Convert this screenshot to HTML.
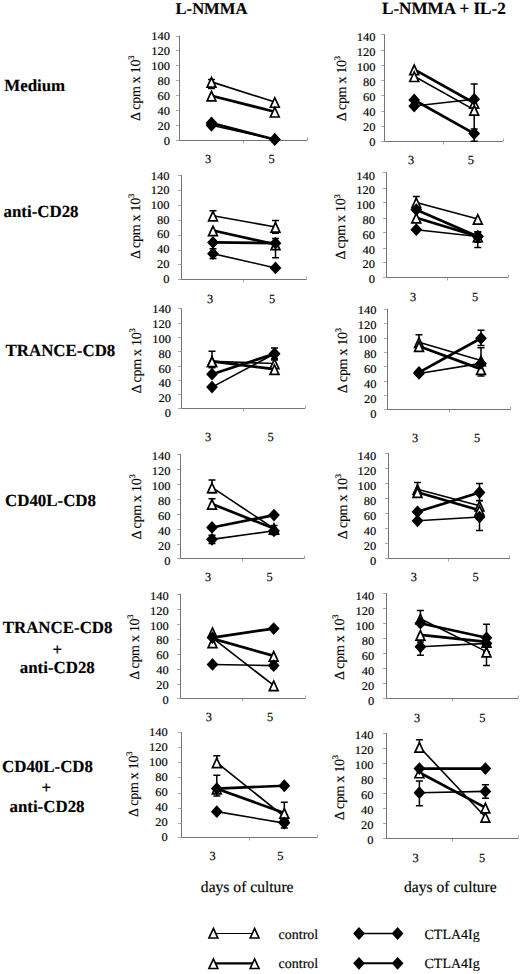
<!DOCTYPE html><html><head><meta charset="utf-8"><title>Figure</title><style>html,body{margin:0;padding:0;background:#fff;}body{width:520px;height:974px;overflow:hidden;}svg{display:block;font-family:"Liberation Serif",serif;text-rendering:geometricPrecision;}text{stroke:#000;stroke-width:0.15px;}</style></head><body>
<svg width="520" height="974" viewBox="0 0 520 974">
<rect width="520" height="974" fill="#fff"/>
<g font-weight="bold" font-size="16.6">
<text x="211.5" y="13.8" text-anchor="middle">L-NMMA</text>
<text x="443.85" y="14.4" text-anchor="middle" font-size="17.1">L-NMMA + IL-2</text>
</g>
<g font-weight="bold" font-size="16.9">
<text x="4.2" y="90.8">Medium</text>
<text x="3.5" y="217.4">anti-CD28</text>
<text x="5.5" y="355.5">TRANCE-CD8</text>
<text x="5" y="506.3">CD40L-CD8</text>
<text x="57.6" y="632.5" text-anchor="middle">TRANCE-CD8</text>
<text x="57.2" y="654.6" text-anchor="middle">+</text>
<text x="57.3" y="673" text-anchor="middle">anti-CD28</text>
<text x="47.5" y="772" text-anchor="middle">CD40L-CD8</text>
<text x="46.4" y="793.2" text-anchor="middle">+</text>
<text x="47" y="812" text-anchor="middle">anti-CD28</text>
</g>
<g fill="none">
<path d="M176,125.5H179.5M176,110.5H179.5M176,95.5H179.5M176,80.5H179.5M176,65.5H179.5M176,50.5H179.5M176,36.5H179.5M243.5,140.5v3M307.5,140.5v-3" stroke="#a8a8a8" stroke-width="1"/>
<path d="M176,140.5H179.5" stroke="#a8a8a8" stroke-width="1"/>
<path d="M179.5,35.5V140.5H307" stroke="#747474" stroke-width="1"/>
</g>
<g font-size="11.8" text-anchor="end">
<text transform="translate(169.9,144.7) scale(1.06,1)">0</text>
<text transform="translate(169.9,129.74) scale(1.06,1)">20</text>
<text transform="translate(169.9,114.79) scale(1.06,1)">40</text>
<text transform="translate(169.9,99.83) scale(1.06,1)">60</text>
<text transform="translate(169.9,84.87) scale(1.06,1)">80</text>
<text transform="translate(169.9,69.91) scale(1.06,1)">100</text>
<text transform="translate(169.9,54.96) scale(1.06,1)">120</text>
<text transform="translate(169.9,40) scale(1.06,1)">140</text>
</g>
<text transform="translate(140.1,120.9) rotate(-90)" font-size="14" letter-spacing="-0.28">&#916; cpm x 10<tspan font-size="8.5" dy="-5.8">3</tspan></text>
<text x="208.2" y="162.7" font-size="12.4" text-anchor="middle">3</text>
<text x="271.6" y="162.7" font-size="12.4" text-anchor="middle">5</text>
<line x1="211.5" y1="81.87" x2="274.8" y2="102.06" stroke="#000" stroke-width="1.6"/>
<line x1="211.5" y1="95.7" x2="274.8" y2="111.78" stroke="#000" stroke-width="2.7"/>
<line x1="211.5" y1="125.24" x2="274.8" y2="139.45" stroke="#000" stroke-width="1.6"/>
<line x1="211.5" y1="123" x2="274.8" y2="139.45" stroke="#000" stroke-width="2.7"/>
<path d="M211.5,79.62V88.6M208,79.62h7M208,88.6h7" stroke="#000" stroke-width="1.5" fill="none"/>
<polygon points="211.5,77.57 207.1,87.07 215.9,87.07" fill="#fff" stroke="#000" stroke-width="1.7" stroke-linejoin="miter"/>
<polygon points="274.8,97.76 270.4,107.26 279.2,107.26" fill="#fff" stroke="#000" stroke-width="1.7" stroke-linejoin="miter"/>
<polygon points="211.5,91.4 207.1,100.9 215.9,100.9" fill="#fff" stroke="#000" stroke-width="1.7" stroke-linejoin="miter"/>
<polygon points="274.8,107.48 270.4,116.98 279.2,116.98" fill="#fff" stroke="#000" stroke-width="1.7" stroke-linejoin="miter"/>
<polygon points="211.5,118.84 217.4,125.24 211.5,131.64 205.6,125.24" fill="#000"/>
<polygon points="274.8,133.05 280.7,139.45 274.8,145.85 268.9,139.45" fill="#000"/>
<polygon points="211.5,116.6 217.4,123 211.5,129.4 205.6,123" fill="#000"/>
<polygon points="274.8,133.05 280.7,139.45 274.8,145.85 268.9,139.45" fill="#000"/>
<g fill="none">
<path d="M381,126.5H384.5M381,111.5H384.5M381,95.5H384.5M381,80.5H384.5M381,65.5H384.5M381,50.5H384.5M381,34.5H384.5M443.5,141.5v3M503.5,141.5v-3" stroke="#a8a8a8" stroke-width="1"/>
<path d="M381,141.5H384.5" stroke="#a8a8a8" stroke-width="1"/>
<path d="M384.5,34.3V141.5H503" stroke="#747474" stroke-width="1"/>
</g>
<g font-size="11.8" text-anchor="end">
<text transform="translate(375.4,145.5) scale(1.06,1)">0</text>
<text transform="translate(375.4,130.59) scale(1.06,1)">20</text>
<text transform="translate(375.4,115.67) scale(1.06,1)">40</text>
<text transform="translate(375.4,100.76) scale(1.06,1)">60</text>
<text transform="translate(375.4,85.84) scale(1.06,1)">80</text>
<text transform="translate(375.4,70.93) scale(1.06,1)">100</text>
<text transform="translate(375.4,56.01) scale(1.06,1)">120</text>
<text transform="translate(375.4,41.1) scale(1.06,1)">140</text>
</g>
<text transform="translate(345.9,121.2) rotate(-90)" font-size="14" letter-spacing="-0.28">&#916; cpm x 10<tspan font-size="8.5" dy="-5.8">3</tspan></text>
<text x="411" y="163.7" font-size="12.4" text-anchor="middle">3</text>
<text x="470.8" y="163.7" font-size="12.4" text-anchor="middle">5</text>
<line x1="414.2" y1="69.42" x2="474.2" y2="103.02" stroke="#000" stroke-width="2.7"/>
<line x1="414.2" y1="76.3" x2="474.2" y2="109.89" stroke="#000" stroke-width="1.6"/>
<line x1="414.2" y1="106.08" x2="474.2" y2="99.2" stroke="#000" stroke-width="1.6"/>
<line x1="414.2" y1="99.97" x2="474.2" y2="133.56" stroke="#000" stroke-width="2.7"/>
<path d="M474.2,83.93V128.98M470.7,83.93h7M470.7,128.98h7M474.2,128.98V141.2M470.7,128.98h7M470.7,141.2h7" stroke="#000" stroke-width="1.5" fill="none"/>
<polygon points="414.2,65.12 409.8,74.62 418.6,74.62" fill="#fff" stroke="#000" stroke-width="1.7" stroke-linejoin="miter"/>
<polygon points="474.2,98.72 469.8,108.22 478.6,108.22" fill="#fff" stroke="#000" stroke-width="1.7" stroke-linejoin="miter"/>
<polygon points="414.2,72 409.8,81.5 418.6,81.5" fill="#fff" stroke="#000" stroke-width="1.7" stroke-linejoin="miter"/>
<polygon points="474.2,105.59 469.8,115.09 478.6,115.09" fill="#fff" stroke="#000" stroke-width="1.7" stroke-linejoin="miter"/>
<polygon points="414.2,99.68 420.1,106.08 414.2,112.48 408.3,106.08" fill="#000"/>
<polygon points="474.2,92.8 480.1,99.2 474.2,105.6 468.3,99.2" fill="#000"/>
<polygon points="414.2,93.57 420.1,99.97 414.2,106.37 408.3,99.97" fill="#000"/>
<polygon points="474.2,127.16 480.1,133.56 474.2,139.96 468.3,133.56" fill="#000"/>
<g fill="none">
<path d="M178,264.5H181.5M178,250.5H181.5M178,235.5H181.5M178,220.5H181.5M178,205.5H181.5M178,190.5H181.5M178,175.5H181.5M243.5,279.5v3M306.5,279.5v-3" stroke="#a8a8a8" stroke-width="1"/>
<path d="M178,279.5H181.5" stroke="#a8a8a8" stroke-width="1"/>
<path d="M181.5,175V279.5H306.5" stroke="#747474" stroke-width="1"/>
</g>
<g font-size="11.8" text-anchor="end">
<text transform="translate(169.4,282.5) scale(1.06,1)">0</text>
<text transform="translate(169.4,267.79) scale(1.06,1)">20</text>
<text transform="translate(169.4,253.07) scale(1.06,1)">40</text>
<text transform="translate(169.4,238.36) scale(1.06,1)">60</text>
<text transform="translate(169.4,223.64) scale(1.06,1)">80</text>
<text transform="translate(169.4,208.93) scale(1.06,1)">100</text>
<text transform="translate(169.4,194.21) scale(1.06,1)">120</text>
<text transform="translate(169.4,179.5) scale(1.06,1)">140</text>
</g>
<text transform="translate(139.9,259.1) rotate(-90)" font-size="14" letter-spacing="-0.28">&#916; cpm x 10<tspan font-size="8.5" dy="-5.8">3</tspan></text>
<text x="210" y="302.9" font-size="12.4" text-anchor="middle">3</text>
<text x="272" y="302.9" font-size="12.4" text-anchor="middle">5</text>
<line x1="213" y1="215.72" x2="275.5" y2="226.98" stroke="#000" stroke-width="1.6"/>
<line x1="213" y1="230.48" x2="275.5" y2="244.43" stroke="#000" stroke-width="2.7"/>
<line x1="213" y1="242.41" x2="275.5" y2="243.16" stroke="#000" stroke-width="2.7"/>
<line x1="213" y1="253.67" x2="275.5" y2="267.92" stroke="#000" stroke-width="1.6"/>
<path d="M213,210.79V219.74M209.5,210.79h7M209.5,219.74h7M275.5,220.49V233.17M272,220.49h7M272,233.17h7M275.5,238.39V257.77M272,238.39h7M272,257.77h7M213,248.83V258.52M209.5,248.83h7M209.5,258.52h7" stroke="#000" stroke-width="1.5" fill="none"/>
<polygon points="213,211.42 208.6,220.92 217.4,220.92" fill="#fff" stroke="#000" stroke-width="1.7" stroke-linejoin="miter"/>
<polygon points="275.5,222.68 271.1,232.18 279.9,232.18" fill="#fff" stroke="#000" stroke-width="1.7" stroke-linejoin="miter"/>
<polygon points="213,226.18 208.6,235.68 217.4,235.68" fill="#fff" stroke="#000" stroke-width="1.7" stroke-linejoin="miter"/>
<polygon points="275.5,240.13 271.1,249.63 279.9,249.63" fill="#fff" stroke="#000" stroke-width="1.7" stroke-linejoin="miter"/>
<polygon points="213,236.01 218.9,242.41 213,248.81 207.1,242.41" fill="#000"/>
<polygon points="275.5,236.76 281.4,243.16 275.5,249.56 269.6,243.16" fill="#000"/>
<polygon points="213,247.27 218.9,253.67 213,260.07 207.1,253.67" fill="#000"/>
<polygon points="275.5,261.52 281.4,267.92 275.5,274.32 269.6,267.92" fill="#000"/>
<g fill="none">
<path d="M383,262.5H386.5M383,248.5H386.5M383,232.5H386.5M383,218.5H386.5M383,202.5H386.5M383,188.5H386.5M383,172.5H386.5M447.5,277.5v3M508.5,277.5v-3" stroke="#a8a8a8" stroke-width="1"/>
<path d="M383,277.5H386.5" stroke="#a8a8a8" stroke-width="1"/>
<path d="M386.5,172.5V277.5H508" stroke="#747474" stroke-width="1"/>
</g>
<g font-size="11.8" text-anchor="end">
<text transform="translate(374.9,283.2) scale(1.06,1)">0</text>
<text transform="translate(374.9,268.39) scale(1.06,1)">20</text>
<text transform="translate(374.9,253.57) scale(1.06,1)">40</text>
<text transform="translate(374.9,238.76) scale(1.06,1)">60</text>
<text transform="translate(374.9,223.94) scale(1.06,1)">80</text>
<text transform="translate(374.9,209.13) scale(1.06,1)">100</text>
<text transform="translate(374.9,194.31) scale(1.06,1)">120</text>
<text transform="translate(374.9,179.5) scale(1.06,1)">140</text>
</g>
<text transform="translate(345.4,259.6) rotate(-90)" font-size="14" letter-spacing="-0.28">&#916; cpm x 10<tspan font-size="8.5" dy="-5.8">3</tspan></text>
<text x="413" y="301.2" font-size="12.4" text-anchor="middle">3</text>
<text x="475" y="301.2" font-size="12.4" text-anchor="middle">5</text>
<line x1="416.3" y1="202.5" x2="477.8" y2="219" stroke="#000" stroke-width="1.6"/>
<line x1="416.3" y1="209.7" x2="477.8" y2="236.47" stroke="#000" stroke-width="2.7"/>
<line x1="416.3" y1="217.72" x2="477.8" y2="236.47" stroke="#000" stroke-width="2.7"/>
<line x1="416.3" y1="229.72" x2="477.8" y2="236.47" stroke="#000" stroke-width="1.6"/>
<path d="M416.3,196.5V206.25M412.8,196.5h7M412.8,206.25h7M477.8,231.75V242.25M474.3,231.75h7M474.3,242.25h7M477.8,232.5V247.5M474.3,232.5h7M474.3,247.5h7" stroke="#000" stroke-width="1.5" fill="none"/>
<polygon points="416.3,198.2 411.9,207.7 420.7,207.7" fill="#fff" stroke="#000" stroke-width="1.7" stroke-linejoin="miter"/>
<polygon points="477.8,214.7 473.4,224.2 482.2,224.2" fill="#fff" stroke="#000" stroke-width="1.7" stroke-linejoin="miter"/>
<polygon points="416.3,203.3 422.2,209.7 416.3,216.1 410.4,209.7" fill="#000"/>
<polygon points="477.8,230.07 483.7,236.47 477.8,242.88 471.9,236.47" fill="#000"/>
<polygon points="416.3,213.42 411.9,222.92 420.7,222.92" fill="#fff" stroke="#000" stroke-width="1.7" stroke-linejoin="miter"/>
<polygon points="477.8,232.17 473.4,241.67 482.2,241.67" fill="#fff" stroke="#000" stroke-width="1.7" stroke-linejoin="miter"/>
<polygon points="416.3,223.32 422.2,229.72 416.3,236.12 410.4,229.72" fill="#000"/>
<polygon points="477.8,230.07 483.7,236.47 477.8,242.88 471.9,236.47" fill="#000"/>
<g fill="none">
<path d="M178,394.5H181.5M178,380.5H181.5M178,366.5H181.5M178,351.5H181.5M178,337.5H181.5M178,323.5H181.5M178,308.5H181.5M243.5,408.5v3M305.5,408.5v-3" stroke="#a8a8a8" stroke-width="1"/>
<path d="M178,408.5H181.5" stroke="#a8a8a8" stroke-width="1"/>
<path d="M181.5,308.3V408.5H305" stroke="#747474" stroke-width="1"/>
</g>
<g font-size="11.8" text-anchor="end">
<text transform="translate(171,417) scale(1.06,1)">0</text>
<text transform="translate(171,402.17) scale(1.06,1)">20</text>
<text transform="translate(171,387.34) scale(1.06,1)">40</text>
<text transform="translate(171,372.51) scale(1.06,1)">60</text>
<text transform="translate(171,357.69) scale(1.06,1)">80</text>
<text transform="translate(171,342.86) scale(1.06,1)">100</text>
<text transform="translate(171,328.03) scale(1.06,1)">120</text>
<text transform="translate(171,313.2) scale(1.06,1)">140</text>
</g>
<text transform="translate(141,393.6) rotate(-90)" font-size="14" letter-spacing="-0.28">&#916; cpm x 10<tspan font-size="8.5" dy="-5.8">3</tspan></text>
<text x="208" y="441.2" font-size="12.4" text-anchor="middle">3</text>
<text x="270.5" y="441.2" font-size="12.4" text-anchor="middle">5</text>
<line x1="212" y1="361.32" x2="274.5" y2="363.47" stroke="#000" stroke-width="1.6"/>
<line x1="212" y1="361.32" x2="274.5" y2="369.2" stroke="#000" stroke-width="2.7"/>
<line x1="212" y1="374.21" x2="274.5" y2="353.79" stroke="#000" stroke-width="2.7"/>
<line x1="212" y1="387.11" x2="274.5" y2="353.79" stroke="#000" stroke-width="1.6"/>
<path d="M212,351.29V367.76M208.5,351.29h7M208.5,367.76h7M274.5,359.88V367.05M271,359.88h7M271,367.05h7M274.5,348.06V358.45M271,348.06h7M271,358.45h7" stroke="#000" stroke-width="1.5" fill="none"/>
<polygon points="212,357.02 207.6,366.52 216.4,366.52" fill="#fff" stroke="#000" stroke-width="1.7" stroke-linejoin="miter"/>
<polygon points="274.5,359.17 270.1,368.67 278.9,368.67" fill="#fff" stroke="#000" stroke-width="1.7" stroke-linejoin="miter"/>
<polygon points="212,357.02 207.6,366.52 216.4,366.52" fill="#fff" stroke="#000" stroke-width="1.7" stroke-linejoin="miter"/>
<polygon points="274.5,364.9 270.1,374.4 278.9,374.4" fill="#fff" stroke="#000" stroke-width="1.7" stroke-linejoin="miter"/>
<polygon points="212,367.81 217.9,374.21 212,380.61 206.1,374.21" fill="#000"/>
<polygon points="274.5,347.39 280.4,353.79 274.5,360.19 268.6,353.79" fill="#000"/>
<polygon points="212,380.71 217.9,387.11 212,393.51 206.1,387.11" fill="#000"/>
<polygon points="274.5,347.39 280.4,353.79 274.5,360.19 268.6,353.79" fill="#000"/>
<g fill="none">
<path d="M384,395.5H387.5M384,381.5H387.5M384,366.5H387.5M384,352.5H387.5M384,338.5H387.5M384,323.5H387.5M384,309.5H387.5M449.5,409.5v3M510.5,409.5v-3" stroke="#a8a8a8" stroke-width="1"/>
<path d="M384,409.5H387.5" stroke="#a8a8a8" stroke-width="1"/>
<path d="M387.5,308.9V409.5H510.5" stroke="#747474" stroke-width="1"/>
</g>
<g font-size="11.8" text-anchor="end">
<text transform="translate(376.4,417.8) scale(1.06,1)">0</text>
<text transform="translate(376.4,402.92) scale(1.06,1)">20</text>
<text transform="translate(376.4,388.04) scale(1.06,1)">40</text>
<text transform="translate(376.4,373.16) scale(1.06,1)">60</text>
<text transform="translate(376.4,358.29) scale(1.06,1)">80</text>
<text transform="translate(376.4,343.41) scale(1.06,1)">100</text>
<text transform="translate(376.4,328.53) scale(1.06,1)">120</text>
<text transform="translate(376.4,313.65) scale(1.06,1)">140</text>
</g>
<text transform="translate(346.9,393.2) rotate(-90)" font-size="14" letter-spacing="-0.28">&#916; cpm x 10<tspan font-size="8.5" dy="-5.8">3</tspan></text>
<text x="415" y="441.7" font-size="12.4" text-anchor="middle">3</text>
<text x="477" y="441.7" font-size="12.4" text-anchor="middle">5</text>
<line x1="419" y1="342.25" x2="481" y2="360.53" stroke="#000" stroke-width="1.6"/>
<line x1="419" y1="346.19" x2="481" y2="369.14" stroke="#000" stroke-width="2.7"/>
<line x1="419" y1="372.44" x2="481" y2="338.3" stroke="#000" stroke-width="2.7"/>
<line x1="419" y1="373.44" x2="481" y2="363.4" stroke="#000" stroke-width="1.6"/>
<path d="M419,334.72V346.19M415.5,334.72h7M415.5,346.19h7M481,330.2V345.47M477.5,330.2h7M477.5,345.47h7M481,347.63V376.02M477.5,347.63h7M477.5,376.02h7" stroke="#000" stroke-width="1.5" fill="none"/>
<polygon points="419,337.95 414.6,347.45 423.4,347.45" fill="#fff" stroke="#000" stroke-width="1.7" stroke-linejoin="miter"/>
<polygon points="481,356.23 476.6,365.73 485.4,365.73" fill="#fff" stroke="#000" stroke-width="1.7" stroke-linejoin="miter"/>
<polygon points="419,341.89 414.6,351.39 423.4,351.39" fill="#fff" stroke="#000" stroke-width="1.7" stroke-linejoin="miter"/>
<polygon points="481,364.84 476.6,374.34 485.4,374.34" fill="#fff" stroke="#000" stroke-width="1.7" stroke-linejoin="miter"/>
<polygon points="419,366.04 424.9,372.44 419,378.84 413.1,372.44" fill="#000"/>
<polygon points="481,331.9 486.9,338.3 481,344.7 475.1,338.3" fill="#000"/>
<polygon points="419,367.04 424.9,373.44 419,379.84 413.1,373.44" fill="#000"/>
<polygon points="481,357 486.9,363.4 481,369.8 475.1,363.4" fill="#000"/>
<g fill="none">
<path d="M177,544.5H180.5M177,529.5H180.5M177,514.5H180.5M177,499.5H180.5M177,484.5H180.5M177,469.5H180.5M177,454.5H180.5M242.5,558.5v3M304.5,558.5v-3" stroke="#a8a8a8" stroke-width="1"/>
<path d="M177,558.5H180.5" stroke="#a8a8a8" stroke-width="1"/>
<path d="M180.5,453.8V558.5H304.5" stroke="#747474" stroke-width="1"/>
</g>
<g font-size="11.8" text-anchor="end">
<text transform="translate(170.4,564.5) scale(1.06,1)">0</text>
<text transform="translate(170.4,549.56) scale(1.06,1)">20</text>
<text transform="translate(170.4,534.61) scale(1.06,1)">40</text>
<text transform="translate(170.4,519.67) scale(1.06,1)">60</text>
<text transform="translate(170.4,504.73) scale(1.06,1)">80</text>
<text transform="translate(170.4,489.79) scale(1.06,1)">100</text>
<text transform="translate(170.4,474.84) scale(1.06,1)">120</text>
<text transform="translate(170.4,459.9) scale(1.06,1)">140</text>
</g>
<text transform="translate(140.9,539.6) rotate(-90)" font-size="14" letter-spacing="-0.28">&#916; cpm x 10<tspan font-size="8.5" dy="-5.8">3</tspan></text>
<text x="208" y="580.5" font-size="12.4" text-anchor="middle">3</text>
<text x="269.5" y="580.5" font-size="12.4" text-anchor="middle">5</text>
<line x1="212" y1="487.45" x2="274" y2="528.59" stroke="#000" stroke-width="1.6"/>
<line x1="212" y1="503.91" x2="274" y2="528.59" stroke="#000" stroke-width="2.7"/>
<line x1="212" y1="527.46" x2="274" y2="515.12" stroke="#000" stroke-width="2.7"/>
<line x1="212" y1="539.35" x2="274" y2="530.83" stroke="#000" stroke-width="1.6"/>
<path d="M212,479.98V492.69M208.5,479.98h7M208.5,492.69h7M212,498.67V509.14M208.5,498.67h7M208.5,509.14h7M212,535.32V543.54M208.5,535.32h7M208.5,543.54h7M274,525.59V534.57M270.5,525.59h7M270.5,534.57h7" stroke="#000" stroke-width="1.5" fill="none"/>
<polygon points="212,483.15 207.6,492.65 216.4,492.65" fill="#fff" stroke="#000" stroke-width="1.7" stroke-linejoin="miter"/>
<polygon points="274,524.29 269.6,533.79 278.4,533.79" fill="#fff" stroke="#000" stroke-width="1.7" stroke-linejoin="miter"/>
<polygon points="212,499.61 207.6,509.11 216.4,509.11" fill="#fff" stroke="#000" stroke-width="1.7" stroke-linejoin="miter"/>
<polygon points="274,524.29 269.6,533.79 278.4,533.79" fill="#fff" stroke="#000" stroke-width="1.7" stroke-linejoin="miter"/>
<polygon points="212,521.06 217.9,527.46 212,533.86 206.1,527.46" fill="#000"/>
<polygon points="274,508.72 279.9,515.12 274,521.52 268.1,515.12" fill="#000"/>
<polygon points="212,532.95 217.9,539.35 212,545.75 206.1,539.35" fill="#000"/>
<polygon points="274,524.43 279.9,530.83 274,537.23 268.1,530.83" fill="#000"/>
<g fill="none">
<path d="M385,543.5H388.5M385,528.5H388.5M385,513.5H388.5M385,498.5H388.5M385,483.5H388.5M385,468.5H388.5M385,453.5H388.5M448.5,558.5v3M509.5,558.5v-3" stroke="#a8a8a8" stroke-width="1"/>
<path d="M385,558.5H388.5" stroke="#a8a8a8" stroke-width="1"/>
<path d="M388.5,453V558.5H509.5" stroke="#747474" stroke-width="1"/>
</g>
<g font-size="11.8" text-anchor="end">
<text transform="translate(376.2,565) scale(1.06,1)">0</text>
<text transform="translate(376.2,549.94) scale(1.06,1)">20</text>
<text transform="translate(376.2,534.89) scale(1.06,1)">40</text>
<text transform="translate(376.2,519.83) scale(1.06,1)">60</text>
<text transform="translate(376.2,504.77) scale(1.06,1)">80</text>
<text transform="translate(376.2,489.71) scale(1.06,1)">100</text>
<text transform="translate(376.2,474.66) scale(1.06,1)">120</text>
<text transform="translate(376.2,459.6) scale(1.06,1)">140</text>
</g>
<text transform="translate(346.7,539.2) rotate(-90)" font-size="14" letter-spacing="-0.28">&#916; cpm x 10<tspan font-size="8.5" dy="-5.8">3</tspan></text>
<text x="413.8" y="581.2" font-size="12.4" text-anchor="middle">3</text>
<text x="475.5" y="581.2" font-size="12.4" text-anchor="middle">5</text>
<line x1="417.5" y1="489.17" x2="479.5" y2="505.75" stroke="#000" stroke-width="1.6"/>
<line x1="417.5" y1="492.19" x2="479.5" y2="510.27" stroke="#000" stroke-width="2.7"/>
<line x1="417.5" y1="511.78" x2="479.5" y2="492.49" stroke="#000" stroke-width="2.7"/>
<line x1="417.5" y1="520.82" x2="479.5" y2="517.05" stroke="#000" stroke-width="1.6"/>
<path d="M417.5,482.39V493.69M414,482.39h7M414,493.69h7M479.5,500.85V511.78M476,500.85h7M476,511.78h7M479.5,483.44V500.48M476,483.44h7M476,500.48h7M479.5,510.27V530.62M476,510.27h7M476,530.62h7" stroke="#000" stroke-width="1.5" fill="none"/>
<polygon points="417.5,484.87 413.1,494.37 421.9,494.37" fill="#fff" stroke="#000" stroke-width="1.7" stroke-linejoin="miter"/>
<polygon points="479.5,501.45 475.1,510.95 483.9,510.95" fill="#fff" stroke="#000" stroke-width="1.7" stroke-linejoin="miter"/>
<polygon points="417.5,487.89 413.1,497.39 421.9,497.39" fill="#fff" stroke="#000" stroke-width="1.7" stroke-linejoin="miter"/>
<polygon points="479.5,505.97 475.1,515.47 483.9,515.47" fill="#fff" stroke="#000" stroke-width="1.7" stroke-linejoin="miter"/>
<polygon points="417.5,505.38 423.4,511.78 417.5,518.18 411.6,511.78" fill="#000"/>
<polygon points="479.5,486.09 485.4,492.49 479.5,498.89 473.6,492.49" fill="#000"/>
<polygon points="417.5,514.42 423.4,520.82 417.5,527.22 411.6,520.82" fill="#000"/>
<polygon points="479.5,510.65 485.4,517.05 479.5,523.45 473.6,517.05" fill="#000"/>
<g fill="none">
<path d="M177,684.5H180.5M177,669.5H180.5M177,654.5H180.5M177,639.5H180.5M177,624.5H180.5M177,609.5H180.5M177,594.5H180.5M242.5,698.5v3M305.5,698.5v-3" stroke="#a8a8a8" stroke-width="1"/>
<path d="M177,698.5H180.5" stroke="#a8a8a8" stroke-width="1"/>
<path d="M180.5,593.8V698.5H305" stroke="#747474" stroke-width="1"/>
</g>
<g font-size="11.8" text-anchor="end">
<text transform="translate(168.7,704.3) scale(1.06,1)">0</text>
<text transform="translate(168.7,689.34) scale(1.06,1)">20</text>
<text transform="translate(168.7,674.39) scale(1.06,1)">40</text>
<text transform="translate(168.7,659.43) scale(1.06,1)">60</text>
<text transform="translate(168.7,644.47) scale(1.06,1)">80</text>
<text transform="translate(168.7,629.51) scale(1.06,1)">100</text>
<text transform="translate(168.7,614.56) scale(1.06,1)">120</text>
<text transform="translate(168.7,599.6) scale(1.06,1)">140</text>
</g>
<text transform="translate(138.5,679.7) rotate(-90)" font-size="14" letter-spacing="-0.28">&#916; cpm x 10<tspan font-size="8.5" dy="-5.8">3</tspan></text>
<text x="208.8" y="721.2" font-size="12.4" text-anchor="middle">3</text>
<text x="270" y="721.2" font-size="12.4" text-anchor="middle">5</text>
<line x1="212.5" y1="637.92" x2="273.7" y2="685.41" stroke="#000" stroke-width="1.6"/>
<line x1="212.5" y1="638.67" x2="273.7" y2="655.87" stroke="#000" stroke-width="2.7"/>
<line x1="212.5" y1="637.55" x2="273.7" y2="628.58" stroke="#000" stroke-width="2.7"/>
<line x1="212.5" y1="664.47" x2="273.7" y2="665.59" stroke="#000" stroke-width="1.6"/>
<path d="M273.7,662.6V668.59M270.2,662.6h7M270.2,668.59h7" stroke="#000" stroke-width="1.5" fill="none"/>
<polygon points="212.5,628.01 208.1,637.51 216.9,637.51" fill="#fff" stroke="#000" stroke-width="1.7" stroke-linejoin="miter"/>
<polygon points="273.7,681.11 269.3,690.61 278.1,690.61" fill="#fff" stroke="#000" stroke-width="1.7" stroke-linejoin="miter"/>
<polygon points="212.5,638.11 208.1,647.61 216.9,647.61" fill="#fff" stroke="#000" stroke-width="1.7" stroke-linejoin="miter"/>
<polygon points="273.7,651.57 269.3,661.07 278.1,661.07" fill="#fff" stroke="#000" stroke-width="1.7" stroke-linejoin="miter"/>
<polygon points="212.5,631.15 218.4,637.55 212.5,643.95 206.6,637.55" fill="#000"/>
<polygon points="273.7,622.18 279.6,628.58 273.7,634.98 267.8,628.58" fill="#000"/>
<polygon points="212.5,658.07 218.4,664.47 212.5,670.87 206.6,664.47" fill="#000"/>
<polygon points="273.7,659.19 279.6,665.59 273.7,671.99 267.8,665.59" fill="#000"/>
<g fill="none">
<path d="M383,683.5H386.5M383,668.5H386.5M383,653.5H386.5M383,638.5H386.5M383,623.5H386.5M383,608.5H386.5M383,593.5H386.5M452.5,698.5v3M518.5,698.5v-3" stroke="#a8a8a8" stroke-width="1"/>
<path d="M383,698.5H386.5" stroke="#a8a8a8" stroke-width="1"/>
<path d="M386.5,593.3V698.5H518" stroke="#747474" stroke-width="1"/>
</g>
<g font-size="11.8" text-anchor="end">
<text transform="translate(374.3,704.9) scale(1.06,1)">0</text>
<text transform="translate(374.3,689.94) scale(1.06,1)">20</text>
<text transform="translate(374.3,674.99) scale(1.06,1)">40</text>
<text transform="translate(374.3,660.03) scale(1.06,1)">60</text>
<text transform="translate(374.3,645.07) scale(1.06,1)">80</text>
<text transform="translate(374.3,630.11) scale(1.06,1)">100</text>
<text transform="translate(374.3,615.16) scale(1.06,1)">120</text>
<text transform="translate(374.3,600.2) scale(1.06,1)">140</text>
</g>
<text transform="translate(343.9,679.9) rotate(-90)" font-size="14" letter-spacing="-0.28">&#916; cpm x 10<tspan font-size="8.5" dy="-5.8">3</tspan></text>
<text x="417" y="722.4" font-size="12.4" text-anchor="middle">3</text>
<text x="482.3" y="722.4" font-size="12.4" text-anchor="middle">5</text>
<line x1="420.4" y1="618.73" x2="486.5" y2="651.63" stroke="#000" stroke-width="1.6"/>
<line x1="420.4" y1="634.88" x2="486.5" y2="641.91" stroke="#000" stroke-width="2.7"/>
<line x1="420.4" y1="623.21" x2="486.5" y2="637.8" stroke="#000" stroke-width="2.7"/>
<line x1="420.4" y1="646.77" x2="486.5" y2="643.41" stroke="#000" stroke-width="1.6"/>
<path d="M420.4,610.5V623.21M416.9,610.5h7M416.9,623.21h7M486.5,624.26V651.86M483,624.26h7M483,651.86h7M420.4,641.91V655.37M416.9,641.91h7M416.9,655.37h7M486.5,645.65V665.39M483,645.65h7M483,665.39h7" stroke="#000" stroke-width="1.5" fill="none"/>
<polygon points="420.4,614.43 416,623.93 424.8,623.93" fill="#fff" stroke="#000" stroke-width="1.7" stroke-linejoin="miter"/>
<polygon points="486.5,647.33 482.1,656.83 490.9,656.83" fill="#fff" stroke="#000" stroke-width="1.7" stroke-linejoin="miter"/>
<polygon points="420.4,630.58 416,640.08 424.8,640.08" fill="#fff" stroke="#000" stroke-width="1.7" stroke-linejoin="miter"/>
<polygon points="486.5,637.61 482.1,647.11 490.9,647.11" fill="#fff" stroke="#000" stroke-width="1.7" stroke-linejoin="miter"/>
<polygon points="420.4,616.81 426.3,623.21 420.4,629.61 414.5,623.21" fill="#000"/>
<polygon points="486.5,631.4 492.4,637.8 486.5,644.2 480.6,637.8" fill="#000"/>
<polygon points="420.4,640.37 426.3,646.77 420.4,653.17 414.5,646.77" fill="#000"/>
<polygon points="486.5,637.01 492.4,643.41 486.5,649.81 480.6,643.41" fill="#000"/>
<g fill="none">
<path d="M178,823.5H181.5M178,808.5H181.5M178,793.5H181.5M178,777.5H181.5M178,762.5H181.5M178,747.5H181.5M178,732.5H181.5M249.5,837.5v3M317.5,837.5v-3" stroke="#a8a8a8" stroke-width="1"/>
<path d="M178,837.5H181.5" stroke="#a8a8a8" stroke-width="1"/>
<path d="M181.5,732.2V837.5H317.3" stroke="#747474" stroke-width="1"/>
</g>
<g font-size="11.8" text-anchor="end">
<text transform="translate(167.7,841.1) scale(1.06,1)">0</text>
<text transform="translate(167.7,826.13) scale(1.06,1)">20</text>
<text transform="translate(167.7,811.16) scale(1.06,1)">40</text>
<text transform="translate(167.7,796.19) scale(1.06,1)">60</text>
<text transform="translate(167.7,781.21) scale(1.06,1)">80</text>
<text transform="translate(167.7,766.24) scale(1.06,1)">100</text>
<text transform="translate(167.7,751.27) scale(1.06,1)">120</text>
<text transform="translate(167.7,736.3) scale(1.06,1)">140</text>
</g>
<text transform="translate(137.9,816.9) rotate(-90)" font-size="14" letter-spacing="-0.28">&#916; cpm x 10<tspan font-size="8.5" dy="-5.8">3</tspan></text>
<text x="212.5" y="860.2" font-size="12.4" text-anchor="middle">3</text>
<text x="280.4" y="860.4" font-size="12.4" text-anchor="middle">5</text>
<line x1="216.8" y1="762.52" x2="284.3" y2="816.68" stroke="#000" stroke-width="1.6"/>
<line x1="216.8" y1="788.77" x2="284.3" y2="812.91" stroke="#000" stroke-width="2.7"/>
<line x1="216.8" y1="788.55" x2="284.3" y2="785.75" stroke="#000" stroke-width="2.7"/>
<line x1="216.8" y1="811.63" x2="284.3" y2="823.09" stroke="#000" stroke-width="1.6"/>
<path d="M216.8,755.81V766.9M213.3,755.81h7M213.3,766.9h7M216.8,775.19V795.94M213.3,775.19h7M213.3,795.94h7M284.3,802.35V816.68M280.8,802.35h7M280.8,816.68h7M284.3,818.19V827.99M280.8,818.19h7M280.8,827.99h7" stroke="#000" stroke-width="1.5" fill="none"/>
<polygon points="216.8,758.22 212.4,767.72 221.2,767.72" fill="#fff" stroke="#000" stroke-width="1.7" stroke-linejoin="miter"/>
<polygon points="284.3,812.38 279.9,821.88 288.7,821.88" fill="#fff" stroke="#000" stroke-width="1.7" stroke-linejoin="miter"/>
<polygon points="216.8,784.47 212.4,793.97 221.2,793.97" fill="#fff" stroke="#000" stroke-width="1.7" stroke-linejoin="miter"/>
<polygon points="284.3,808.61 279.9,818.11 288.7,818.11" fill="#fff" stroke="#000" stroke-width="1.7" stroke-linejoin="miter"/>
<polygon points="216.8,782.15 222.7,788.55 216.8,794.95 210.9,788.55" fill="#000"/>
<polygon points="284.3,779.35 290.2,785.75 284.3,792.15 278.4,785.75" fill="#000"/>
<polygon points="216.8,805.23 222.7,811.63 216.8,818.03 210.9,811.63" fill="#000"/>
<polygon points="284.3,816.69 290.2,823.09 284.3,829.49 278.4,823.09" fill="#000"/>
<g fill="none">
<path d="M383,823.5H386.5M383,808.5H386.5M383,793.5H386.5M383,778.5H386.5M383,763.5H386.5M383,748.5H386.5M383,733.5H386.5M452.5,838.5v3M518.5,838.5v-3" stroke="#a8a8a8" stroke-width="1"/>
<path d="M383,838.5H386.5" stroke="#a8a8a8" stroke-width="1"/>
<path d="M386.5,732.9V838.5H518" stroke="#747474" stroke-width="1"/>
</g>
<g font-size="11.8" text-anchor="end">
<text transform="translate(373.5,844) scale(1.06,1)">0</text>
<text transform="translate(373.5,829.03) scale(1.06,1)">20</text>
<text transform="translate(373.5,814.06) scale(1.06,1)">40</text>
<text transform="translate(373.5,799.09) scale(1.06,1)">60</text>
<text transform="translate(373.5,784.11) scale(1.06,1)">80</text>
<text transform="translate(373.5,769.14) scale(1.06,1)">100</text>
<text transform="translate(373.5,754.17) scale(1.06,1)">120</text>
<text transform="translate(373.5,739.2) scale(1.06,1)">140</text>
</g>
<text transform="translate(343.7,820.2) rotate(-90)" font-size="14" letter-spacing="-0.28">&#916; cpm x 10<tspan font-size="8.5" dy="-5.8">3</tspan></text>
<text x="415.5" y="861.7" font-size="12.4" text-anchor="middle">3</text>
<text x="482" y="861.7" font-size="12.4" text-anchor="middle">5</text>
<line x1="419.4" y1="746.94" x2="485.4" y2="816.98" stroke="#000" stroke-width="1.6"/>
<line x1="419.4" y1="772.54" x2="485.4" y2="807.6" stroke="#000" stroke-width="2.7"/>
<line x1="419.4" y1="768.56" x2="485.4" y2="768.56" stroke="#000" stroke-width="2.7"/>
<line x1="419.4" y1="792.73" x2="485.4" y2="791.38" stroke="#000" stroke-width="1.6"/>
<path d="M419.4,739.66V751.67M415.9,739.66h7M415.9,751.67h7M419.4,780.95V805.72M415.9,780.95h7M415.9,805.72h7M485.4,784.7V798.21M481.9,784.7h7M481.9,798.21h7" stroke="#000" stroke-width="1.5" fill="none"/>
<polygon points="419.4,742.64 415,752.14 423.8,752.14" fill="#fff" stroke="#000" stroke-width="1.7" stroke-linejoin="miter"/>
<polygon points="485.4,812.68 481,822.18 489.8,822.18" fill="#fff" stroke="#000" stroke-width="1.7" stroke-linejoin="miter"/>
<polygon points="419.4,768.24 415,777.74 423.8,777.74" fill="#fff" stroke="#000" stroke-width="1.7" stroke-linejoin="miter"/>
<polygon points="485.4,803.3 481,812.8 489.8,812.8" fill="#fff" stroke="#000" stroke-width="1.7" stroke-linejoin="miter"/>
<polygon points="419.4,762.16 425.3,768.56 419.4,774.96 413.5,768.56" fill="#000"/>
<polygon points="485.4,762.16 491.3,768.56 485.4,774.96 479.5,768.56" fill="#000"/>
<polygon points="419.4,786.33 425.3,792.73 419.4,799.13 413.5,792.73" fill="#000"/>
<polygon points="485.4,784.98 491.3,791.38 485.4,797.78 479.5,791.38" fill="#000"/>
<g font-size="15.6" text-anchor="middle">
<text x="247.2" y="891.5">days of culture</text>
<text x="450.4" y="892">days of culture</text>
</g>
<line x1="213.4" y1="933.5" x2="254.6" y2="933.5" stroke="#000" stroke-width="1.1"/>
<polygon points="213.4,928.5 209,938 217.8,938" fill="#fff" stroke="#000" stroke-width="1.7" stroke-linejoin="miter"/>
<polygon points="254.6,928.5 250.2,938 259,938" fill="#fff" stroke="#000" stroke-width="1.7" stroke-linejoin="miter"/>
<line x1="359" y1="933.5" x2="397.6" y2="933.5" stroke="#000" stroke-width="1.6"/>
<polygon points="359,927.1 364.9,933.5 359,939.9 353.1,933.5" fill="#000"/>
<polygon points="397.6,927.1 403.5,933.5 397.6,939.9 391.7,933.5" fill="#000"/>
<line x1="213.4" y1="963.3" x2="254.6" y2="963.3" stroke="#000" stroke-width="2.2"/>
<polygon points="213.4,959 209,968.5 217.8,968.5" fill="#fff" stroke="#000" stroke-width="1.7" stroke-linejoin="miter"/>
<polygon points="254.6,959 250.2,968.5 259,968.5" fill="#fff" stroke="#000" stroke-width="1.7" stroke-linejoin="miter"/>
<line x1="359" y1="963.3" x2="397.6" y2="963.3" stroke="#000" stroke-width="2"/>
<polygon points="359,956.9 364.9,963.3 359,969.7 353.1,963.3" fill="#000"/>
<polygon points="397.6,956.9 403.5,963.3 397.6,969.7 391.7,963.3" fill="#000"/>
<g font-size="14">
<text x="278.6" y="938.5">control</text>
<text x="278.6" y="967.9">control</text>
<text x="424.5" y="938.6">CTLA4Ig</text>
<text x="424.5" y="967.6">CTLA4Ig</text>
</g>
</svg></body></html>
